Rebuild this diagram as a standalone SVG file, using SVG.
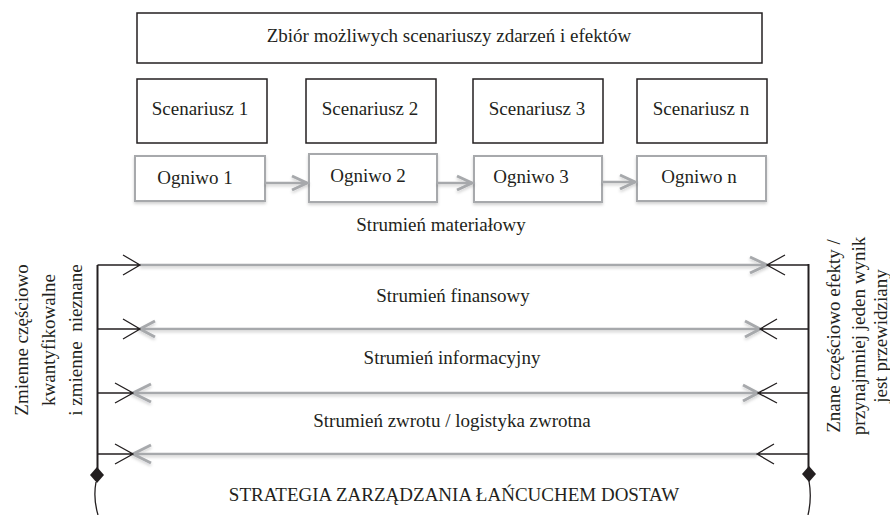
<svg xmlns="http://www.w3.org/2000/svg" width="890" height="515" viewBox="0 0 890 515">
<defs>
<filter id="sh" x="-5%" y="-50%" width="110%" height="200%">
<feDropShadow dx="0" dy="2" stdDeviation="1.5" flood-color="#000" flood-opacity="0.18"/>
</filter>
</defs>
<style>
text{font-family:"Liberation Serif","Times New Roman",serif;font-size:19px;fill:#231f20}
.m{text-anchor:middle}
.bk{fill:#fff;stroke:#231f20;stroke-width:1.5}
.gb{fill:#fff;stroke:#a7a9ac;stroke-width:2}
.gl{fill:none;stroke:#a7a9ac;stroke-width:2.5}
.gc{fill:none;stroke:#a7a9ac;stroke-width:3}
.bl{fill:none;stroke:#231f20;stroke-width:1.3}
.bv{fill:none;stroke:#231f20;stroke-width:2}
</style>
<rect width="890" height="515" fill="#fff"/>

<g id="zbior">
<rect class="bk" x="137" y="13" width="625" height="50"/>
<text class="m" x="449" y="42">Zbiór możliwych scenariuszy zdarzeń i efektów</text>
</g>
<g id="scen1"><rect class="bk" x="137" y="79" width="130" height="64"/><text class="m" x="200" y="115">Scenariusz 1</text></g>
<g id="scen2"><rect class="bk" x="306" y="79" width="130" height="64"/><text class="m" x="370" y="115">Scenariusz 2</text></g>
<g id="scen3"><rect class="bk" x="473" y="79" width="130" height="64"/><text class="m" x="537" y="115">Scenariusz 3</text></g>
<g id="scenn"><rect class="bk" x="637" y="79" width="130" height="64"/><text class="m" x="701" y="115">Scenariusz n</text></g>

<g id="ogn1" filter="url(#sh)"><rect class="gb" x="135" y="156" width="130" height="45"/></g>
<text class="m" x="195" y="184">Ogniwo 1</text>
<g id="ogn2" filter="url(#sh)"><rect class="gb" x="309" y="154" width="128" height="48"/></g>
<text class="m" x="368" y="182">Ogniwo 2</text>
<g id="ogn3" filter="url(#sh)"><rect class="gb" x="474" y="156" width="128" height="46"/></g>
<text class="m" x="531" y="183">Ogniwo 3</text>
<g id="ognn" filter="url(#sh)"><rect class="gb" x="637" y="156" width="129" height="45"/></g>
<text class="m" x="699" y="183">Ogniwo n</text>

<g id="labels">
<text class="m" x="441" y="231">Strumień materiałowy</text>
<text class="m" x="453" y="302">Strumień finansowy</text>
<text class="m" x="452" y="364">Strumień informacyjny</text>
<text class="m" x="452" y="427">Strumień zwrotu / logistyka zwrotna</text>
<text class="m" x="454" y="501">STRATEGIA ZARZĄDZANIA ŁAŃCUCHEM DOSTAW</text>
</g>

<g id="left-text" transform="translate(0,340) rotate(-90)">
<text class="m" x="0" y="28">Zmienne częściowo</text>
<text class="m" x="0" y="55">kwantyfikowalne</text>
<text class="m" x="0" y="82" xml:space="preserve">i zmienne  nieznane</text>
</g>
<g id="right-text" transform="translate(0,336) rotate(-90)">
<text class="m" x="0" y="840">Znane częściowo efekty /</text>
<text class="m" x="0" y="865">przynajmniej jeden wynik</text>
<text class="m" x="0" y="887">jest przewidziany</text>
</g>

<g id="connectors">
<g filter="url(#sh)">
<!-- Ogniwo arrows -->
<path class="gl" d="M265,183 H307"/><path class="gc" d="M292,176 L307,183 L292,190"/>
<path class="gl" d="M437,183 H472"/><path class="gc" d="M457,176 L472,183 L457,190"/>
<path class="gl" d="M602,182 H635"/><path class="gc" d="M620,175 L635,182 L620,189"/>
<!-- stream lines -->
<path class="gl" d="M140,265 H767"/>
<path class="gc" d="M750,257 L767,265 L750,273"/>
<path class="gl" d="M140,329 H760"/>
<path class="gc" d="M155,321 L140,329 L155,337"/>
<path class="gc" d="M745,321 L760,329 L745,337"/>
<path class="gl" d="M133,393 H758"/>
<path class="gc" d="M151,384 L133,393 L151,402"/>
<path class="gc" d="M743,385 L758,393 L743,401"/>
<path class="gl" d="M133,454 H757"/>
<path class="gc" d="M151,445 L133,454 L151,463"/>
</g>
<!-- left side -->
<path class="bv" d="M97.5,265 V475"/>
<path class="bl" d="M97.5,265 H140 M123,255 L140,265 L123,275"/>
<path class="bl" d="M97.5,329 H140 M123,319 L140,329 L123,339"/>
<path class="bl" d="M97.5,393 H133 M115,383 L133,393 L115,403"/>
<path class="bl" d="M97.5,454 H133 M115,444 L133,454 L115,464"/>
<path d="M97,467 L104,475 L97,483 L90,475 Z" fill="#231f20"/>
<path class="bl" d="M96,482 Q93,498 98,515"/>
<!-- right side -->
<path class="bv" d="M808.5,264 V475"/>
<path class="bl" d="M808.5,265 H767 M785,255 L767,265 L785,275"/>
<path class="bl" d="M808.5,329 H760 M777,319 L760,329 L777,339"/>
<path class="bl" d="M808.5,393 H758 M777,383 L758,393 L777,403"/>
<path class="bl" d="M808.5,454 H757 M774,444 L757,454 L774,464"/>
<path d="M809,466 L816,474 L809,482 L802,474 Z" fill="#231f20"/>
<path class="bl" d="M809,481 Q812,498 808,515"/>
</g>
</svg>
